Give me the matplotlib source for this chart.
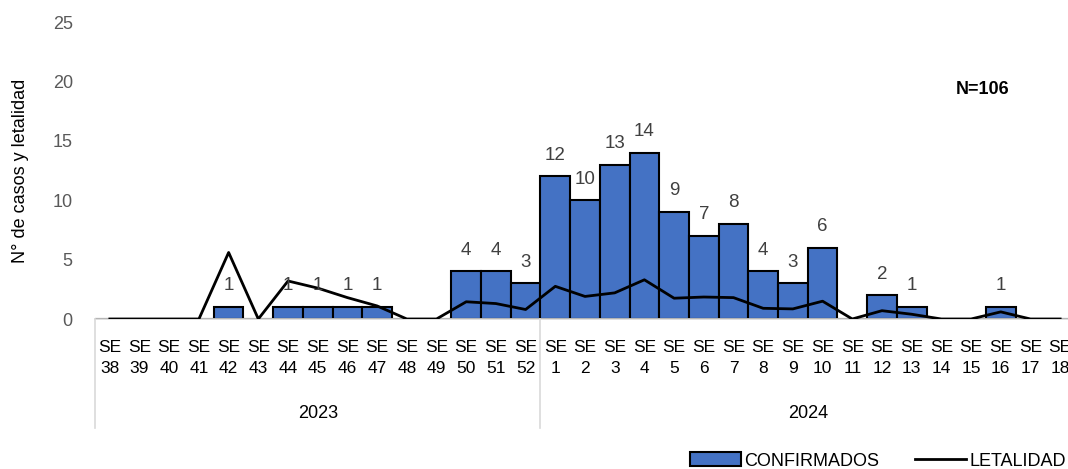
import matplotlib
matplotlib.use("Agg")
import matplotlib.pyplot as plt
from matplotlib.patches import Patch
from matplotlib.lines import Line2D

plt.rcParams['font.family'] = ['Liberation Sans', 'DejaVu Sans']

weeks_2023 = [38, 39, 40, 41, 42, 43, 44, 45, 46, 47, 48, 49, 50, 51, 52]
weeks_2024 = [1, 2, 3, 4, 5, 6, 7, 8, 9, 10, 11, 12, 13, 14, 15, 16, 17, 18]
confirmados = [0, 0, 0, 0, 1, 0, 1, 1, 1, 1, 0, 0, 4, 4, 3,
               12, 10, 13, 14, 9, 7, 8, 4, 3, 6, 0, 2, 1, 0, 0, 1, 0, 0]
letalidad = [0, 0, 0, 0, 5.6, 0, 3.2, 2.6, 1.8, 1.1, 0, 0, 1.45, 1.3, 0.8,
             2.75, 1.9, 2.2, 3.3, 1.75, 1.85, 1.8, 0.9, 0.85, 1.5, 0, 0.7, 0.4, 0, 0, 0.6, 0, 0]
years = ['2023', '2024']
tick_labels = [f"SE\n{w}" for w in weeks_2023 + weeks_2024]

W, H = 1068, 469
fig = plt.figure(figsize=(W / 100, H / 100), dpi=100)
ax = fig.add_axes([95 / W, 150 / H, 980 / W, 297 / H])

x = list(range(len(confirmados)))
blue = '#4472C4'
ax.bar(x, confirmados, width=1.0, color=blue, edgecolor='black', linewidth=1.5, zorder=2)
ax.plot(x, letalidad, color='black', linewidth=2, zorder=3)

for xi, v in zip(x, confirmados):
    if v > 0:
        ax.annotate(str(v), (xi, v), xytext=(0, 12), textcoords='offset points',
                    ha='center', va='baseline', fontsize=13.5, color='#404040')

ax.set_xlim(-0.5, len(x) - 0.5)
ax.set_ylim(0, 25)
ax.set_yticks([0, 5, 10, 15, 20, 25])
ax.tick_params(axis='y', length=0, labelsize=13, labelcolor='#595959', pad=16)
ax.set_xticks(x)
ax.set_xticklabels(tick_labels, fontsize=12.5, color='black', linespacing=1.55)
ax.tick_params(axis='x', length=0, pad=15)
for s in ['top', 'right', 'left']:
    ax.spines[s].set_visible(False)
ax.spines['bottom'].set_color('#D9D9D9')
ax.spines['bottom'].set_linewidth(1.2)
ax.set_ylabel('N° de casos y letalidad', fontsize=13, color='black', labelpad=17)

# group separators and year labels
ybot = -(428 - 319) / 11.88
for xs in [-0.5, len(weeks_2023) - 0.5]:
    ax.plot([xs, xs], [0, ybot], color='#D9D9D9', linewidth=1.2, clip_on=False)
ax.text((len(weeks_2023) - 1) / 2, -(413 - 319) / 11.88, years[0], ha='center', va='center',
        fontsize=13, color='black', clip_on=False)
ax.text(len(weeks_2023) + (len(weeks_2024) - 1) / 2, -(413 - 319) / 11.88, years[1], ha='center',
        va='center', fontsize=13, color='black', clip_on=False)

fig.text(983 / W, 1 - 90 / H, 'N=106', ha='center', va='center', fontsize=13, fontweight='bold')

handles = [Patch(facecolor=blue, edgecolor='black', linewidth=1.5),
           Line2D([0], [0], color='black', linewidth=2)]
fig.legend(handles, ['CONFIRMADOS', 'LETALIDAD'], loc='center left',
           bbox_to_anchor=(690 / W, 1 - 461 / H), ncol=2, frameon=False, fontsize=13,
           handlelength=2.8, handleheight=0.8, handletextpad=0.2, columnspacing=2.0,
           borderpad=0, borderaxespad=0)

fig.savefig('out.png', dpi=100)
